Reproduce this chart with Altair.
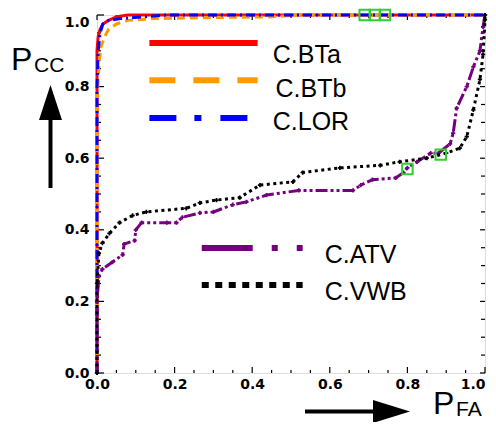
import altair as alt
import pandas as pd

# ---------------- data ----------------
series_names = ["C.BTa", "C.BTb", "C.LOR", "C.ATV", "C.VWB"]

bta_x = [0.0, 0.0, 0.003, 0.008, 0.015, 0.03, 0.05, 0.08, 1.0]
bta_y = [0.0, 0.90, 0.94, 0.96, 0.975, 0.985, 0.995, 1.0, 1.0]

btb_x = [0.0, 0.0, 0.005, 0.01, 0.02, 0.03, 0.05, 0.08, 0.15, 0.3, 0.45, 0.52, 1.0]
btb_y = [0.0, 0.75, 0.86, 0.91, 0.94, 0.96, 0.975, 0.985, 0.99, 0.993, 0.995, 1.0, 1.0]

lor_x = [0.0, 0.0, 0.003, 0.008, 0.015, 0.03, 0.06, 0.12, 0.18, 1.0]
lor_y = [0.0, 0.80, 0.90, 0.95, 0.975, 0.985, 0.99, 0.995, 1.0, 1.0]

atv_x = [0.0, 0.0, 0.005, 0.014, 0.04, 0.066, 0.07, 0.097, 0.10, 0.115, 0.18, 0.205,
         0.22, 0.265, 0.30, 0.35, 0.385, 0.437, 0.52, 0.66, 0.68, 0.71, 0.77, 0.79,
         0.80, 0.825, 0.86, 0.88, 0.91, 0.918, 0.927, 0.953, 0.97, 0.987, 0.995, 1.0]
atv_y = [0.0, 0.20, 0.27, 0.29, 0.31, 0.33, 0.36, 0.37, 0.40, 0.42, 0.42, 0.42,
         0.435, 0.447, 0.45, 0.47, 0.478, 0.497, 0.51, 0.51, 0.525, 0.54, 0.545, 0.56,
         0.573, 0.59, 0.614, 0.614, 0.64, 0.67, 0.74, 0.80, 0.855, 0.90, 0.967, 1.0]

vwb_x = [0.0, 0.0, 0.005, 0.014, 0.032, 0.058, 0.092, 0.127, 0.23, 0.265, 0.308, 0.368,
         0.42, 0.505, 0.53, 0.626, 0.73, 0.78, 0.85, 0.90, 0.935, 0.953, 0.97, 0.987,
         0.995, 1.0, 1.0]
vwb_y = [0.0, 0.25, 0.335, 0.363, 0.39, 0.42, 0.44, 0.45, 0.46, 0.475, 0.483, 0.49,
         0.525, 0.534, 0.56, 0.573, 0.58, 0.59, 0.60, 0.614, 0.628, 0.66, 0.735, 0.82,
         0.89, 0.986, 1.0]

green_x = [0.69, 0.716, 0.742, 0.80, 0.886]
green_y = [1.0, 1.0, 1.0, 0.57, 0.61]

tick_major = [0.0, 0.2, 0.4, 0.6, 0.8, 1.0]
tick_minor = [0.05, 0.1, 0.15, 0.25, 0.3, 0.35, 0.45, 0.5, 0.55,
              0.65, 0.7, 0.75, 0.85, 0.9, 0.95]

# legend placement (data coordinates)
legend_y_line = [0.922, 0.818, 0.712, 0.349, 0.246]
legend_y_text = [0.888, 0.794, 0.701, 0.330, 0.226]
legend_x1 = [0.135, 0.135, 0.135, 0.27, 0.27]
legend_x2 = [0.414, 0.414, 0.414, 0.53, 0.53]
legend_xt = [0.453, 0.460, 0.453, 0.587, 0.587]

# ---------------- styles ----------------
W, H = 388, 358
colors = ["#ff0000", "#ff9900", "#0000ff", "#74007f", "#000000"]
plot_dash = [[1, 0], [8, 5], [9, 4, 2, 4], [12, 3, 3, 3, 3, 3], [3, 3.5]]
leg_dash = [[1, 0], [26, 18], [27, 18, 7, 19], [51, 19, 6, 19, 6, 19], [7, 6.5]]
xs_all = [bta_x, btb_x, lor_x, atv_x, vwb_x]
ys_all = [bta_y, btb_y, lor_y, atv_y, vwb_y]

xsc = alt.Scale(domain=[0, 1], nice=False, zero=False)
ysc = alt.Scale(domain=[0, 1], nice=False, zero=False)

lab = dict(labelFont="DejaVu Sans", labelFontWeight="bold", labelFontSize=14,
           labelColor="black", ticks=False, domain=False, grid=False, title=None,
           labelFlush=False, format=".1f", values=tick_major)
x_axis = alt.Axis(labelPadding=4,
                  labelAlign=alt.ExprRef(expr="datum.value == 1 ? 'right' : 'center'"),
                  labelOffset=0, **lab)
y_axis = alt.Axis(labelPadding=8,
                  labelBaseline=alt.ExprRef(expr="datum.value == 1 ? 'top' : 'middle'"),
                  **lab)


def X(f):
    return alt.X(f, scale=xsc, axis=x_axis)


def Y(f):
    return alt.Y(f, scale=ysc, axis=y_axis)


layers = []

# inward ticks
def xticks(vals, y0, y1):
    return alt.Chart(pd.DataFrame({"v": vals})).mark_rule(color="black", strokeWidth=1.2).encode(
        x=X("v:Q"), y=alt.value(y0), y2=alt.value(y1))


def yticks(vals, x0, x1):
    return alt.Chart(pd.DataFrame({"v": vals})).mark_rule(color="black", strokeWidth=1.2).encode(
        y=Y("v:Q"), x=alt.value(x0), x2=alt.value(x1))


layers += [
    xticks(tick_major, H, H - 6), xticks(tick_minor, H, H - 3),
    xticks(tick_major, 0, 5), xticks(tick_minor, 0, 3),
    yticks(tick_major, 0, 7), yticks(tick_minor, 0, 4),
    yticks(tick_major, W, W - 5), yticks(tick_minor, W, W - 4),
]

# curves
for k, name in enumerate(series_names):
    df = pd.DataFrame({"x": xs_all[k], "y": ys_all[k], "i": list(range(len(xs_all[k])))})
    layers.append(
        alt.Chart(df).mark_line(color=colors[k], strokeDash=plot_dash[k], strokeWidth=3)
        .encode(x=X("x:Q"), y=Y("y:Q"), order="i:Q")
    )
    if k >= 3:
        layers.append(
            alt.Chart(df).mark_point(shape="cross", filled=True, size=18, color=colors[k], opacity=1)
            .encode(x=X("x:Q"), y=Y("y:Q"))
        )

# green markers
layers.append(
    alt.Chart(pd.DataFrame({"x": green_x, "y": green_y}))
    .mark_point(shape="square", size=110, color="#33cc33", strokeWidth=2, filled=False, opacity=1)
    .encode(x=X("x:Q"), y=Y("y:Q"))
)

# legend
for k, name in enumerate(series_names):
    ldf = pd.DataFrame({"x1": [legend_x1[k]], "x2": [legend_x2[k]], "yl": [legend_y_line[k]],
                        "xt": [legend_xt[k]], "yt": [legend_y_text[k]], "t": [name]})
    layers.append(
        alt.Chart(ldf).mark_rule(color=colors[k], strokeDash=leg_dash[k], strokeWidth=6, strokeCap="butt")
        .encode(x=X("x1:Q"), x2="x2:Q", y=Y("yl:Q"))
    )
    layers.append(
        alt.Chart(ldf).mark_text(align="left", baseline="middle", font="Liberation Sans",
                                 fontSize=25, color="black")
        .encode(x=X("xt:Q"), y=Y("yt:Q"), text="t:N")
    )

# axis titles and arrows (annotations, pixel placement)
one = pd.DataFrame({"a": [0]})


def txt(s, x, y, size):
    return alt.Chart(one).mark_text(align="left", baseline="alphabetic", font="Liberation Sans",
                                    fontSize=size, color="black").encode(
        x=alt.value(x), y=alt.value(y), text=alt.value(s))


layers += [txt("P", -86, 55, 32), txt("CC", -63, 57, 21),
           txt("P", 336, 399, 32), txt("FA", 359, 401, 21)]

layers.append(alt.Chart(one).mark_rule(color="black", strokeWidth=4).encode(
    x=alt.value(-46.5), y=alt.value(173), y2=alt.value(100)))
layers.append(alt.Chart(one).mark_point(shape="M0,-1L0.657,1L-0.657,1Z", size=1225, filled=True,
                                        color="black", opacity=1, strokeWidth=0).encode(
    x=alt.value(-46.5), y=alt.value(87.5)))
layers.append(alt.Chart(one).mark_rule(color="black", strokeWidth=4).encode(
    x=alt.value(208), x2=alt.value(280), y=alt.value(396.5)))
layers.append(alt.Chart(one).mark_point(shape="M1,0L-1,-0.62L-1,0.62Z", size=1369, filled=True,
                                        color="black", opacity=1, strokeWidth=0).encode(
    x=alt.value(294.5), y=alt.value(396.5)))

chart = alt.layer(*layers).properties(
    width=W, height=H,
    autosize=alt.AutoSizeParams(type="none"),
    padding={"left": 89, "top": 7, "right": 3, "bottom": 49},
).configure_view(stroke="black", strokeWidth=1.5).configure(background="white")

chart.save("out.html", embed_options={"renderer": "svg", "actions": False})
